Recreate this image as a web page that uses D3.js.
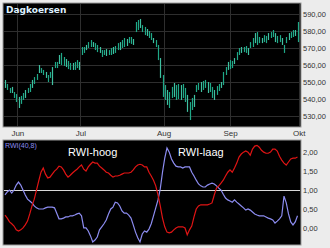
<!DOCTYPE html>
<html><head><meta charset="utf-8">
<script src="https://cdn.jsdelivr.net/npm/d3@7"></script>
<style>body{margin:0;background:#ececec;} svg{display:block;}</style>
</head><body><svg id="c" width="330" height="248"></svg>
<script>
const months = ["Jun","Jul","Aug","Sep","Okt"];
const monthPos = [5.5,33.5,70.5,100,130.5];
const priceTicks = [530,540,550,560,570,580,590];
const rwiTicks = [0,0.5,1,1.5,2];
const high = [551.2,548.8,546.5,547.1,544.1,542.9,541.2,541.8,543.5,545.3,
546.5,548.8,551.2,552.9,554.7,560,558.2,557.1,555.9,554.1,
555.9,558.8,561.8,561.8,565.9,567.1,564.7,563.5,562.4,561.2,
561.2,561.8,562.9,561.8,570.6,570.6,571.8,573.5,574.7,573.5,
572.9,571.8,570.6,568.8,568.8,569.4,568.8,570,570.6,571.2,
572.9,573.5,574.7,575.9,575.3,576.5,576.5,575.3,585.3,586.5,
587.1,583.5,582.4,581.2,580,578.8,575.9,574.7,571.8,564.1,
554.1,548.2,545.3,544.1,547.1,549.4,548.2,548.8,548.2,548.8,
546.5,542.4,538.2,540.6,542.4,548.2,549.4,550,550.6,551.2,
550,549.4,547.1,545.3,547.6,548.8,550,555.9,558.8,561.8,
562.9,562.4,564.1,567.6,570,570.6,570.6,571.2,570,573.5,
575.9,578.8,579.4,576.5,575.9,577.6,577.1,578.8,579.4,580.6,
578.8,577.1,577.6,575.9,571.8,576.5,578.8,579.4,580.6,580.6,585.3];
const low = [546.5,545.3,543.5,543.5,540.6,538.2,534.7,537.1,539.4,540.6,
543.5,544.1,546.5,548.8,551.2,555.3,555.3,554.1,552.4,550,
552.4,548.2,558.2,558.2,560.6,560,559.4,558.8,557.6,557.1,
557.1,557.1,558.2,557.1,565.9,567.1,568.8,570,570.6,570.6,
568.8,567.6,567.1,564.7,565.9,565.3,565.9,565.9,566.5,567.1,
568.8,568.8,570,570.6,571.2,572.9,572.4,571.8,579.4,580.6,
581.8,579.4,577.6,577.1,575.9,574.7,572.9,570.6,562.9,552.4,
541.2,539.4,536.5,534.7,540.6,541.2,539.4,540,539.4,540.6,
538.2,532.4,527.6,533.5,535.3,544.1,545.3,544.1,545.3,546.5,
543.5,544.1,540.6,539.4,542.4,544.7,546.5,548.2,554.1,557.1,
557.6,558.2,560.6,562.9,565.9,567.1,567.6,567.1,565.9,570,
570.6,572.9,571.8,572.9,572.9,573.5,572.9,574.7,575.9,576.5,
573.5,572.9,573.5,571.8,567.1,572.9,574.7,575.9,576.5,577.1,573.5];
const rwiHigh = [0.34,0.26,0.16,0.11,0.05,-0.05,-0.08,-0.05,0,0.08,
0.18,0.37,0.58,0.76,1.0,1.24,1.47,1.58,1.42,1.32,
1.34,1.42,1.5,1.55,1.63,1.61,1.53,1.42,1.34,1.39,
1.45,1.5,1.55,1.61,1.66,1.55,1.5,1.61,1.68,1.74,
1.71,1.71,1.63,1.58,1.53,1.47,1.45,1.39,1.34,1.37,
1.37,1.39,1.42,1.45,1.45,1.45,1.47,1.53,1.61,1.66,
1.68,1.66,1.61,1.61,1.47,1.37,1.26,1.11,0.87,0.58,
0.26,0.03,-0.11,-0.13,-0.11,-0.05,0,0.03,0.03,0.03,
0,-0.18,-0.05,0.05,0.29,0.5,0.58,0.61,0.61,0.61,
0.61,0.63,0.66,0.87,1.05,1.11,1.18,1.26,1.37,1.47,
1.53,1.47,1.58,1.71,1.87,1.95,2.0,2.03,2.0,1.92,
2.08,2.16,2.18,2.13,2.05,2.0,1.97,1.97,2.0,2.08,
2.08,2.03,1.89,1.79,1.71,1.66,1.74,1.82,1.84,1.84,1.87];
const rwiLow = [0.87,0.95,1.0,0.92,1.0,1.13,1.21,1.13,1.0,0.87,
0.76,0.71,0.66,0.58,0.53,0.5,0.5,0.5,0.53,0.55,
0.55,0.55,0.53,0.39,0.24,0.24,0.26,0.29,0.29,0.32,
0.32,0.34,0.37,0.39,0.32,0,0,-0.08,-0.21,-0.37,
-0.32,-0.24,-0.05,0.03,0.11,0.21,0.37,0.5,0.55,0.68,
0.66,0.58,0.45,0.39,0.39,0.34,0.26,0.08,-0.11,-0.26,
-0.37,-0.16,-0.08,-0.11,-0.03,0.11,0.32,0.53,0.74,1.03,
1.47,1.84,2.11,2.0,1.82,1.71,1.63,1.61,1.61,1.58,
1.61,1.61,1.61,1.47,1.37,1.26,1.16,1.11,1.08,1.08,
1.13,1.16,1.18,1.16,1.11,1.05,1.0,0.89,0.79,0.74,
0.71,0.68,0.74,0.68,0.63,0.58,0.53,0.47,0.5,0.47,
0.42,0.37,0.34,0.32,0.32,0.32,0.29,0.26,0.24,0.21,
0.13,0.18,0.24,0.32,0.84,0.66,0.37,0.16,0.08,0.16,0.32];

const svg = d3.select("#c");
const L=3, R=301, t1=3, b1=127, t2=140, b2=245;
const x = d3.scaleLinear().domain([0,130]).range([5,297.5]);
const yP = d3.scaleLinear().domain([523.5,596.5]).range([b1,t1]);
const yR = d3.scaleLinear().domain([-0.45,2.32]).range([b2,t2]);
const loc = d3.formatLocale({decimal:",",thousands:".",grouping:[3],currency:["","€"]});
const fmt = loc.format(".2f");
const font = "'Liberation Sans', Arial, sans-serif";

// panels
svg.append("rect").attr("x",L).attr("y",t1).attr("width",R-L).attr("height",b1-t1).attr("fill","#000").attr("stroke","#9a9a9a").attr("stroke-width",1);
svg.append("rect").attr("x",L).attr("y",t2).attr("width",R-L).attr("height",b2-t2).attr("fill","#000").attr("stroke","#9a9a9a").attr("stroke-width",1);

// gridlines top
const g1 = svg.append("g");
g1.selectAll("line.h").data(priceTicks).join("line")
  .attr("x1",L+1).attr("x2",R-1).attr("y1",d=>Math.round(yP(d))+0.5).attr("y2",d=>Math.round(yP(d))+0.5)
  .attr("stroke","#2e2e2e").attr("stroke-width",1);
g1.selectAll("line.v").data(monthPos).join("line")
  .attr("y1",t1+1).attr("y2",b1-1).attr("x1",d=>Math.round(x(d))+0.5).attr("x2",d=>Math.round(x(d))+0.5)
  .attr("stroke","#2e2e2e").attr("stroke-width",1);

// price bars
svg.append("g").selectAll("line").data(high).join("line")
  .attr("x1",(d,i)=>Math.round(x(i))+0.5).attr("x2",(d,i)=>Math.round(x(i))+0.5)
  .attr("y1",d=>yP(d)).attr("y2",(d,i)=>yP(low[i]))
  .attr("stroke",(d,i)=>i%3===0?"#3fc0a0":"#1fa888").attr("stroke-width",1.2);

// axes top
const ay1 = svg.append("g").attr("transform",`translate(${R},0)`)
  .call(d3.axisRight(yP).tickValues(priceTicks).tickFormat(fmt).tickSize(0).tickPadding(2));
ay1.select(".domain").remove();
ay1.selectAll("text").attr("font-family",font).attr("font-size","7.5px").attr("fill","#333");

const ax = svg.append("g").attr("transform",`translate(0,${b1})`)
  .call(d3.axisBottom(x).tickValues(monthPos).tickFormat((d,i)=>months[i]).tickSize(0).tickPadding(3));
ax.select(".domain").remove();
ax.selectAll("text").attr("font-family",font).attr("font-size","8px").attr("fill","#333");

svg.append("text").attr("x",6).attr("y",13).text("Dagkoersen")
  .attr("font-family","'DejaVu Sans', sans-serif").attr("font-weight","bold").attr("font-size","9px").attr("fill","#dff2ff");

// bottom panel
svg.append("defs").append("clipPath").attr("id","cp2").append("rect")
  .attr("x",L+1).attr("y",t2+1).attr("width",R-L-2).attr("height",b2-t2-2);
svg.append("line").attr("x1",L+1).attr("x2",R-1).attr("y1",Math.round(yR(1))+0.5).attr("y2",Math.round(yR(1))+0.5)
  .attr("stroke","#d8d8d8").attr("stroke-width",1);
const line = d3.line().x((d,i)=>x(i)).y(d=>yR(d));
const gl = svg.append("g").attr("clip-path","url(#cp2)");
gl.append("path").datum(rwiLow).attr("d",line).attr("fill","none").attr("stroke","#8c8cf0").attr("stroke-width",1.2);
gl.append("path").datum(rwiHigh).attr("d",line).attr("fill","none").attr("stroke","#e01414").attr("stroke-width",1.2);

const ay2 = svg.append("g").attr("transform",`translate(${R},0)`)
  .call(d3.axisRight(yR).tickValues(rwiTicks).tickFormat(fmt).tickSize(0).tickPadding(2));
ay2.select(".domain").remove();
ay2.selectAll("text").attr("font-family",font).attr("font-size","7.5px").attr("fill","#333");

svg.append("text").attr("x",5).attr("y",148).text("RWI(40,8)")
  .attr("font-family",font).attr("font-size","7px").attr("fill","#8c8cf0");
svg.append("text").attr("x",68).attr("y",156).text("RWI-hoog")
  .attr("font-family",font).attr("font-size","11px").attr("fill","#fff");
svg.append("text").attr("x",178).attr("y",156).text("RWI-laag")
  .attr("font-family",font).attr("font-size","11px").attr("fill","#fff");
</script></body></html>
